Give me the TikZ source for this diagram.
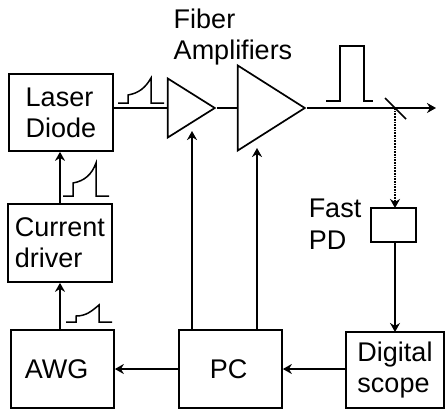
\documentclass[tikz,border=0pt]{standalone}
\usepackage{fontspec}
\setmainfont{Liberation Sans}
\usetikzlibrary{shapes.geometric, arrows.meta}
\tikzset{
    blockbox/.style={draw, line width=1.7pt, inner sep=0pt, align=left, font=\fontsize{27}{31}\selectfont},
    ampbox/.style={draw, line width=1.7pt, inner sep=0pt, isosceles triangle, isosceles triangle stretches, anchor=apex},
    label/.style={inner sep=0pt, align=left, font=\fontsize{27}{31.5}\selectfont},
    wire/.style={line width=1.7pt},
    pulse/.style={line width=1.5pt}
}
\begin{document}
\begin{tikzpicture}[x=1pt, y=-1pt, >={Stealth[length=9pt, width=10pt]}]
        \useasboundingbox (0,0) rectangle (446,410);

        % Left column: laser and its drive chain
        \node[blockbox, minimum width=104pt, minimum height=77pt] (laser) at (61,112.5) {Laser\\Diode};
        \node[blockbox, minimum width=104pt, minimum height=78pt] (driver) at (60,243) {Current\\driver};
        \node[blockbox, minimum width=103pt, minimum height=78pt] (awg) at (62.5,369) {AWG\hspace*{12pt}};

        % Bottom row
        \node[blockbox, minimum width=103pt, minimum height=78pt] (pc) at (230.5,369) {PC\hspace*{4pt}};
        \node[blockbox, minimum width=98pt, minimum height=76pt] (scope) at (395,370) {Digital\\scope};

        % Fiber amplifiers
        \node[ampbox, minimum width=59pt, minimum height=47pt] (amp1) at (217,108) {};
        \node[ampbox, minimum width=85pt, minimum height=67pt] (amp2) at (307,108) {};
        \node[label] (amptext) at (233,37) {Fiber\\Amplifiers};

        % Photodiode
        \node[draw, line width=1.7pt, minimum width=45pt, minimum height=34pt, inner sep=0pt] (pd) at (393.5,225) {};
        \node[label] (pdtext) at (335,224) {Fast\\PD};

        % Free ends on the beam line
        \coordinate (split) at (395,108);
        \coordinate (out) at (436,108);
        \coordinate (mirrora) at (385,98);
        \coordinate (mirrorb) at (406,119);
        \coordinate (pdin) at (395,208);
        \coordinate (pdout) at (395,242);
        \coordinate (scopein) at (395,332);
        \coordinate (amp1pc) at (192,330);
        \coordinate (amp1in) at (192,131);
        \coordinate (amp2pc) at (257,330);
        \coordinate (amp2in) at (257,148);

        % Beam line
        \draw[wire] (laser.east |- split) -- (amp1.west |- split);
        \draw[wire] (amp1.apex) -- (amp2.west |- split);
        \draw[wire, ->] (amp2.apex) -- (out);
        \draw[wire] (mirrora) -- (mirrorb);
        \draw[wire, densely dotted, ->] (split) -- (pdin);

        % Signal arrows
        \draw[wire, ->] (pdout) -- (scopein);
        \draw[wire, ->] (scope.west |- pc.east) -- (pc.east);
        \draw[wire, ->] (pc.west) -- (awg.east);
        \draw[wire, ->] (driver.south |- awg.north) -- (driver.south);
        \draw[wire, ->] (driver.north) -- (driver.north |- laser.south);
        \draw[wire, ->] (amp1pc) -- (amp1in);
        \draw[wire, ->] (amp2pc) -- (amp2in);

        % Pulse shapes
        \draw[pulse] (118,103) -- (128,103) -- (128,95) to[out=10, in=240] (151,78) -- (151,103) -- (164,103);
        \draw[pulse] (63,196) -- (73,196) -- (73,183) to[out=10, in=250] (96,163) -- (96,196) -- (109,196);
        \draw[pulse] (66,322) -- (76,322) -- (76,316) to[out=0, in=220] (99,305) -- (99,322) -- (112,322);
        \draw[pulse] (326,101) -- (340,101) -- (340,46) -- (364,46) -- (364,101) -- (373,101);
\end{tikzpicture}
\end{document}
